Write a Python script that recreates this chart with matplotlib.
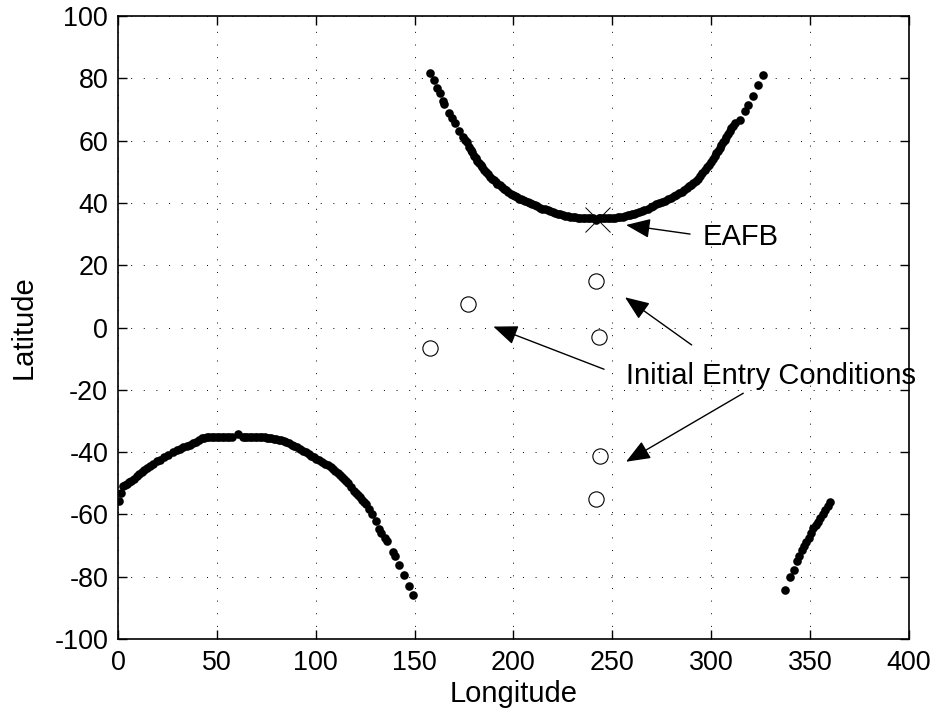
import matplotlib
matplotlib.use("Agg")
import matplotlib.pyplot as plt

plt.rcParams['font.family'] = ['Liberation Sans', 'DejaVu Sans']
plt.rcParams['axes.unicode_minus'] = False

# Upper ground-track boundary (lon, lat)
upper_lon = [158.0, 159.7, 161.5, 162.7, 164.5, 165.1, 167.5, 169.0, 170.3, 172.4,
             174.5, 175.4, 176.3, 177.5, 178.3, 179.0, 180.0, 180.9, 181.7, 182.5,
             183.4, 184.2, 185.1, 186.0, 187.0, 188.0, 189.0, 190.0, 191.0, 191.9,
             193.0, 194.0, 195.1, 196.3, 197.4, 198.6, 199.7, 200.8, 201.9, 203.0,
             204.0, 205.0, 206.0, 207.1, 208.3, 209.5, 210.7, 212.0, 213.2, 214.5,
             215.9, 217.3, 218.5, 219.8, 221.0, 222.3, 223.5, 224.8, 226.1, 227.4,
             228.7, 230.0, 231.2, 232.5, 233.8, 235.0, 236.2, 237.5, 238.8, 240.0,
             241.8, 243.0, 244.0, 245.2, 246.5, 247.8, 249.0, 250.2, 251.5, 252.8,
             254.0, 255.2, 256.5, 257.8, 259.0, 260.0, 261.0, 262.2, 263.5, 264.8,
             266.0, 267.8, 269.5, 270.8, 272.0, 273.5, 275.0, 276.5, 278.0, 279.5,
             281.0, 282.2, 283.5, 285.0, 286.4, 287.7, 289.0, 290.0, 291.0, 292.1,
             293.2, 294.3, 295.5, 296.6, 297.8, 298.9, 300.0, 300.9, 301.8, 302.6,
             303.5, 304.3, 305.1, 306.0, 306.8, 307.6, 308.5, 309.3, 310.2, 311.1,
             312.0, 314.4, 316.9, 318.7, 321.2, 323.8, 326.3]
upper_lat = [81.7, 79.4, 77.0, 75.3, 72.6, 71.7, 68.8, 67.1, 65.5, 63.1,
             61.2, 60.3, 59.4, 57.8, 57.0, 56.2, 55.2, 54.3, 53.5, 52.8,
             52.1, 51.4, 50.7, 50.0, 49.2, 48.4, 47.8, 47.2, 46.7, 46.2,
             45.6, 45.1, 44.5, 44.0, 43.5, 43.0, 42.6, 42.2, 41.8, 41.4,
             41.1, 40.8, 40.5, 40.3, 39.9, 39.6, 39.2, 38.9, 38.5, 38.2,
             37.9, 37.6, 37.3, 37.0, 36.7, 36.5, 36.3, 36.1, 35.9, 35.8,
             35.6, 35.5, 35.4, 35.3, 35.3, 35.3, 35.3, 35.3, 35.3, 35.3,
             34.4, 35.3, 35.3, 35.3, 35.3, 35.3, 35.3, 35.3, 35.3, 35.4,
             35.5, 35.6, 35.8, 36.0, 36.2, 36.3, 36.5, 36.8, 37.1, 37.4,
             37.8, 38.2, 38.7, 39.1, 39.5, 39.9, 40.3, 40.7, 41.2, 41.7,
             42.2, 42.6, 43.1, 43.6, 44.1, 44.7, 45.4, 45.9, 46.5, 47.1,
             47.8, 48.7, 49.6, 50.5, 51.4, 52.3, 53.2, 54.1, 55.0, 55.9,
             56.8, 57.6, 58.5, 59.4, 60.3, 61.2, 62.2, 63.1, 64.0, 64.8,
             65.5, 66.7, 69.4, 71.5, 74.4, 77.7, 81.1]

# Lower ground-track boundary
lower_lon = [0.3, 1.4, 2.4, 3.4, 4.5, 5.6, 6.8, 8.2, 9.6, 10.8,
             12.0, 13.3, 14.6, 16.2, 17.8, 19.6, 21.4, 23.4, 25.5, 27.6,
             29.8, 31.4, 33.0, 34.8, 36.5, 38.0, 39.5, 41.0, 42.4, 43.7,
             45.0, 46.2, 47.5, 48.8, 50.0, 51.2, 52.5, 53.8, 55.0, 56.2,
             57.5, 60.9, 63.0, 64.3, 65.5, 66.8, 68.0, 69.2, 70.5, 71.8,
             73.0, 74.3, 75.5, 76.5, 77.5, 78.8, 80.0, 81.2, 82.5, 83.8,
             85.0, 86.4, 87.8, 89.2, 90.5, 92.0, 93.5, 95.0, 96.5, 97.8,
             99.1, 100.3, 101.5, 103.0, 104.5, 106.0, 107.6, 108.8, 110.0, 111.2,
             112.3, 113.4, 114.4, 115.5, 116.5, 118.0, 119.5, 120.5, 121.5, 122.5,
             123.5, 124.5, 125.4, 127.0, 128.3, 130.5, 132.2, 133.1, 134.8, 136.1,
             138.9, 139.9, 141.9, 144.4, 147.0, 149.2,
             337.3, 339.8, 342.1, 343.6, 344.6, 346.0, 346.8, 348.0, 349.2, 350.4,
             351.7, 352.8, 354.0, 355.1, 356.3, 357.6, 358.8, 360.1]
lower_lat = [-55.7, -53.2, -51.0, -50.6, -50.2, -49.7, -49.2, -48.5, -47.8, -47.1,
             -46.4, -45.7, -45.1, -44.4, -43.7, -43.0, -42.4, -41.6, -40.8, -40.1,
             -39.4, -38.9, -38.5, -38.1, -37.7, -37.1, -36.6, -36.1, -35.6, -35.4,
             -35.3, -35.3, -35.3, -35.3, -35.3, -35.3, -35.3, -35.3, -35.3, -35.3,
             -35.3, -34.3, -35.3, -35.3, -35.3, -35.3, -35.3, -35.3, -35.3, -35.3,
             -35.3, -35.3, -35.4, -35.5, -35.6, -35.7, -35.9, -36.0, -36.2, -36.5,
             -36.8, -37.2, -37.6, -38.0, -38.5, -39.0, -39.6, -40.1, -40.6, -41.1,
             -41.6, -42.1, -42.6, -43.1, -43.7, -44.3, -44.9, -45.5, -46.1, -46.7,
             -47.4, -48.0, -48.6, -49.3, -50.0, -51.2, -52.4, -53.1, -53.8, -54.5,
             -55.3, -56.0, -56.7, -58.3, -59.8, -62.2, -64.6, -65.9, -67.5, -68.6,
             -72.2, -73.2, -76.2, -79.4, -82.9, -85.9,
             -84.3, -80.2, -77.8, -75.0, -73.5, -71.3, -70.2, -68.9, -67.6, -65.9,
             -64.5, -63.5, -62.4, -61.3, -60.0, -58.6, -57.2, -55.9]

# Initial entry conditions
entry_lon = [241.5, 177.0, 158.0, 243.2, 244.0, 241.5]
entry_lat = [15.0, 7.4, -6.5, -3.0, -41.1, -55.2]

# EAFB
eafb_lon = [242.1]
eafb_lat = [34.9]

fig = plt.figure(figsize=(9.37, 7.15), dpi=100)
ax = fig.add_axes([0.1259, 0.1063, 0.8442, 0.8713])

ax.plot(upper_lon, upper_lat, 'o', color='k', ms=6.2, mec='k', mew=0, linestyle='none')
ax.plot(lower_lon, lower_lat, 'o', color='k', ms=6.2, mec='k', mew=0, linestyle='none')
ax.plot(entry_lon, entry_lat, 'o', mfc='none', mec='k', ms=11, mew=0.8, linestyle='none')
ax.plot(eafb_lon, eafb_lat, 'x', color='k', ms=18, mew=0.7, linestyle='none')

ax.set_xlim(0, 400)
ax.set_ylim(-100, 100)
ax.set_xticks(range(0, 401, 50))
ax.set_yticks(range(-100, 101, 20))
ax.grid(True, color='k', linestyle=(0, (1, 12)), linewidth=0.7)
ax.tick_params(direction='in', length=6.5, width=1, top=True, right=True,
               labelsize=19.4)
ax.tick_params(axis='x', pad=8)
ax.tick_params(axis='y', pad=7)
for s in ax.spines.values():
    s.set_linewidth(1.2)

ax.set_xlabel('Longitude', fontsize=21, labelpad=3)
ax.set_ylabel('Latitude', fontsize=21, labelpad=12)

arrow = dict(arrowstyle='-|>,head_length=1.5,head_width=0.6', color='k', lw=1,
             shrinkA=0, shrinkB=0, mutation_scale=10)
ax.text(295.7, 26.5, 'EAFB', fontsize=21, ha='left', va='baseline')
ax.annotate('', xy=(256.9, 32.9), xytext=(289.3, 30.0), arrowprops=arrow)

ax.text(256.9, -18.1, 'Initial Entry Conditions', fontsize=21, ha='left', va='baseline')
ax.annotate('', xy=(189.8, 0.3), xytext=(245.8, -13.4), arrowprops=arrow)
ax.annotate('', xy=(256.4, 9.7), xytext=(290.1, -5.6), arrowprops=arrow)
ax.annotate('', xy=(256.9, -43.1), xytext=(316.2, -21.1), arrowprops=arrow)

fig.savefig('out.png', dpi=100)
